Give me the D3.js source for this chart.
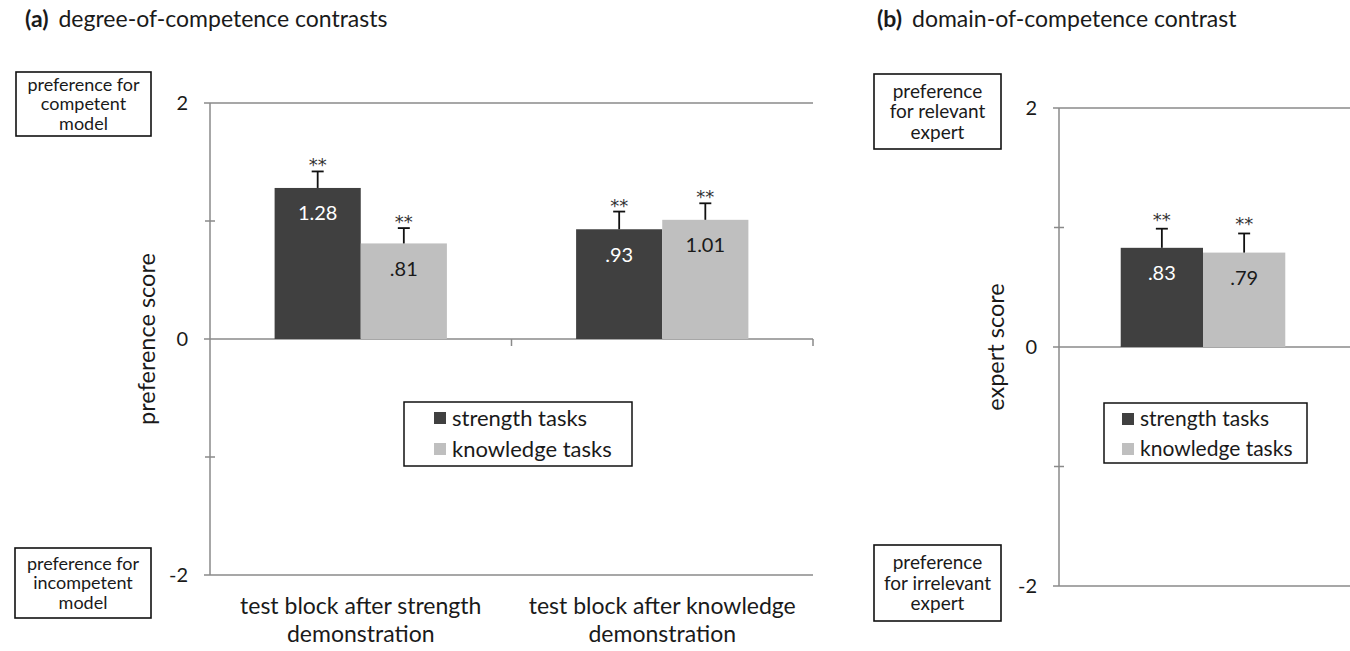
<!DOCTYPE html>
<html>
<head>
<meta charset="utf-8">
<script src="https://cdn.jsdelivr.net/npm/d3@7/dist/d3.min.js"></script>
<style>
  body { margin: 0; background: #fff; }
  svg { display: block; }
  text { font-family: Lato, 'Open Sans', sans-serif; fill: #1a1a1a; }
</style>
</head>
<body>
<div id="chart"></div>
<script>
// data
const seriesNames = ['strength tasks', 'knowledge tasks'];
const seriesColors = ['#404040', '#bfbfbf'];

const categoriesA = ['after strength', 'after knowledge'];
const categoryLinesA = [['test block after strength', 'demonstration'], ['test block after knowledge', 'demonstration']];
const strengthA = [1.28, 0.93];
const knowledgeA = [0.81, 1.01];
const strengthErrA = [0.14, 0.15];
const knowledgeErrA = [0.13, 0.14];
const starsA = [['**', '**'], ['**', '**']];

const categoriesB = ['domain'];
const strengthB = [0.83];
const knowledgeB = [0.79];
const strengthErrB = [0.16];
const knowledgeErrB = [0.16];
const starsB = [['**', '**']];

const majorTicks = [-2, 0, 2];
const majorTickLabels = ['-2', '0', '2'];
const minorTicks = [-1, 1];
const yDomain = [-2, 2];

const boxTopA = ['preference for', 'competent', 'model'];
const boxBottomA = ['preference for', 'incompetent', 'model'];
const boxTopB = ['preference', 'for relevant', 'expert'];
const boxBottomB = ['preference', 'for irrelevant', 'expert'];

const svg = d3.select('#chart')
  .append('svg')
  .attr('width', 1350)
  .attr('height', 651);

const fmt = (v) => d3.format('.2f')(v).replace(/^0/, '');

function drawPanel(p) {
  const g = svg.append('g');

  // title
  const title = g.append('text')
    .attr('x', p.titleX)
    .attr('y', 27)
    .attr('font-size', '23px');
  title.append('tspan').attr('font-weight', 700).text(p.titleTag);
  title.append('tspan').attr('dx', 10).text(p.title);

  const y = d3.scaleLinear().domain(yDomain).range([p.bottom, p.top]);
  const x0 = d3.scaleBand().domain(p.categories).range([p.left, p.right]);
  const bw = x0.bandwidth() / 3.5;
  const x1 = d3.scaleBand().domain(seriesNames).range([bw * 0.75, bw * 2.75]);

  // gridlines at the major ticks
  g.selectAll('.grid')
    .data(majorTicks)
    .enter()
    .append('line')
    .attr('x1', p.left - 6)
    .attr('x2', p.lineEnd)
    .attr('y1', d => y(d))
    .attr('y2', d => y(d))
    .attr('stroke', '#8a8a8a')
    .attr('stroke-width', 1.5);

  // value axis line and minor ticks
  g.append('line')
    .attr('x1', p.left).attr('x2', p.left)
    .attr('y1', y(2)).attr('y2', y(-2))
    .attr('stroke', '#8a8a8a')
    .attr('stroke-width', 1.5);

  g.selectAll('.minor')
    .data(minorTicks)
    .enter()
    .append('line')
    .attr('x1', p.left - 5)
    .attr('x2', p.left + 5)
    .attr('y1', d => y(d))
    .attr('y2', d => y(d))
    .attr('stroke', '#8a8a8a')
    .attr('stroke-width', 1.5);

  // category boundary ticks on the zero line
  g.selectAll('.ctick')
    .data(p.categories.slice(1).map(c => x0(c)).concat(p.endTick ? [p.right] : []))
    .enter()
    .append('line')
    .attr('x1', d => d).attr('x2', d => d)
    .attr('y1', y(0)).attr('y2', y(0) + 7)
    .attr('stroke', '#8a8a8a')
    .attr('stroke-width', 1.5);

  // tick labels
  const axis = g.append('g')
    .attr('transform', `translate(${p.left},0)`)
    .call(d3.axisLeft(y).tickValues(majorTicks).tickSize(0).tickPadding(22)
      .tickFormat((d, i) => majorTickLabels[i]));
  axis.select('.domain').remove();
  axis.selectAll('text')
    .attr('font-size', '20px');

  // axis title
  g.append('text')
    .attr('transform', `translate(${p.left - 63},${(y(2) + y(-2)) / 2}) rotate(-90)`)
    .attr('text-anchor', 'middle')
    .attr('dy', '0.35em')
    .attr('font-size', '23.5px')
    .text(p.yTitle);

  // bars
  const rows = p.categories.map((c, i) => ({
    cat: c,
    items: [
      { s: seriesNames[0], v: p.strength[i], e: p.strengthErr[i], star: p.stars[i][0], color: seriesColors[0], label: '#fff' },
      { s: seriesNames[1], v: p.knowledge[i], e: p.knowledgeErr[i], star: p.stars[i][1], color: seriesColors[1], label: '#1a1a1a' }
    ]
  }));

  const grp = g.selectAll('.cat')
    .data(rows)
    .enter()
    .append('g')
    .attr('transform', d => `translate(${x0(d.cat)},0)`);

  const bar = grp.selectAll('.bar')
    .data(d => d.items)
    .enter()
    .append('g');

  bar.append('rect')
    .attr('x', d => x1(d.s))
    .attr('width', x1.bandwidth())
    .attr('y', d => y(d.v))
    .attr('height', d => y(0) - y(d.v))
    .attr('fill', d => d.color);

  bar.append('line')
    .attr('x1', d => x1(d.s) + x1.bandwidth() / 2)
    .attr('x2', d => x1(d.s) + x1.bandwidth() / 2)
    .attr('y1', d => y(d.v))
    .attr('y2', d => y(d.v + d.e))
    .attr('stroke', '#111')
    .attr('stroke-width', 1.8);

  bar.append('line')
    .attr('x1', d => x1(d.s) + x1.bandwidth() / 2 - 6)
    .attr('x2', d => x1(d.s) + x1.bandwidth() / 2 + 6)
    .attr('y1', d => y(d.v + d.e))
    .attr('y2', d => y(d.v + d.e))
    .attr('stroke', '#111')
    .attr('stroke-width', 1.8);

  bar.append('text')
    .attr('x', d => x1(d.s) + x1.bandwidth() / 2)
    .attr('y', d => y(d.v) + 25.5)
    .attr('dy', '0.35em')
    .attr('text-anchor', 'middle')
    .attr('font-size', '20px')
    .style('fill', d => d.label)
    .text(d => fmt(d.v));

  // significance stars
  bar.append('text')
    .attr('x', d => x1(d.s) + x1.bandwidth() / 2)
    .attr('y', d => y(d.v + d.e) + p.starShift)
    .attr('text-anchor', 'middle')
    .style('font-family', "'DejaVu Sans', sans-serif")
    .style('font-size', '18px')
    .style('fill', '#333')
    .text(d => d.star);

  // category labels
  if (p.catLines) {
    grp.each(function (d, i) {
      d3.select(this).selectAll('.cl')
        .data(p.catLines[i])
        .enter()
        .append('text')
        .attr('x', x0.bandwidth() / 2)
        .attr('y', (_, j) => 606 + j * 28)
        .attr('dy', '0.35em')
        .attr('text-anchor', 'middle')
        .attr('font-size', '23px')
        .text(t => t);
    });
  }

  // legend
  const lg = g.append('g').attr('transform', `translate(${p.legend[0]},${p.legend[1]})`);
  lg.append('rect')
    .attr('width', p.legend[2])
    .attr('height', p.legend[3])
    .attr('fill', '#fff')
    .attr('stroke', '#111')
    .attr('stroke-width', 1.5);
  const li = lg.selectAll('.li')
    .data(seriesNames)
    .enter()
    .append('g')
    .attr('transform', (_, i) => `translate(${p.legend[4]},${16 + i * p.legend[5]})`);
  li.append('rect')
    .attr('y', -6)
    .attr('width', 12)
    .attr('height', 12)
    .attr('fill', (_, i) => seriesColors[i]);
  li.append('text')
    .attr('x', 18)
    .attr('dy', '0.35em')
    .attr('font-size', p.legendFont)
    .text(d => d);

  // side boxes
  p.boxes.forEach(b => {
    g.append('rect')
      .attr('x', b.x).attr('y', b.y)
      .attr('width', b.w).attr('height', b.h)
      .attr('fill', 'none')
      .attr('stroke', '#111')
      .attr('stroke-width', 1.6);
    g.selectAll(null)
      .data(b.lines)
      .enter()
      .append('text')
      .attr('x', b.x + b.w / 2)
      .attr('y', (_, j) => b.y + b.h / 2 + (j - 1) * b.lh)
      .attr('dy', '0.35em')
      .attr('text-anchor', 'middle')
      .attr('font-size', b.fs)
      .text(t => t);
  });
}

drawPanel({
  titleX: 25, titleTag: '(a)', title: 'degree-of-competence contrasts',
  top: 103, bottom: 575, left: 210, right: 813, lineEnd: 813, endTick: true,
  categories: categoriesA, catLines: categoryLinesA,
  strength: strengthA, knowledge: knowledgeA,
  strengthErr: strengthErrA, knowledgeErr: knowledgeErrA, stars: starsA, starShift: 0,
  yTitle: 'preference score',
  legend: [404, 402, 228, 64, 30, 31], legendFont: '22px',
  boxes: [
    { x: 16, y: 72, w: 135, h: 64, lines: boxTopA, lh: 19.6, fs: '18px' },
    { x: 15, y: 548, w: 136, h: 70, lines: boxBottomA, lh: 19.6, fs: '18px' }
  ]
});

drawPanel({
  titleX: 877, titleTag: '(b)', title: 'domain-of-competence contrast',
  top: 108, bottom: 586, left: 1059, right: 1347, lineEnd: 1350, endTick: false,
  categories: categoriesB, catLines: null,
  strength: strengthB, knowledge: knowledgeB,
  strengthErr: strengthErrB, knowledgeErr: knowledgeErrB, stars: starsB, starShift: -3,
  yTitle: 'expert score',
  legend: [1104, 403, 203, 60, 18, 30], legendFont: '21px',
  boxes: [
    { x: 874, y: 74, w: 127, h: 75, lines: boxTopB, lh: 20.5, fs: '19px' },
    { x: 874, y: 545, w: 127, h: 76, lines: boxBottomB, lh: 20.5, fs: '19px' }
  ]
});
</script>
</body>
</html>
